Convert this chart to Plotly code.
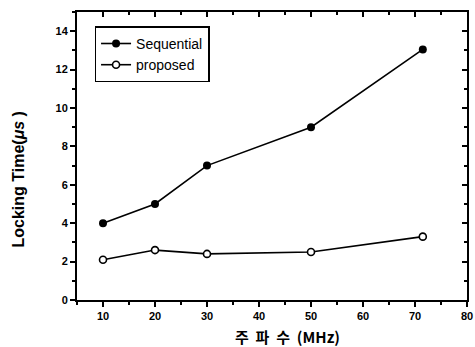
import plotly.graph_objects as go

freq = [10, 20, 30, 50, 71.5]
sequential = [4.0, 5.0, 7.0, 9.0, 13.05]
proposed = [2.1, 2.6, 2.4, 2.5, 3.3]
x_ticks = [10, 20, 30, 40, 50, 60, 70, 80]
y_ticks = [0, 2, 4, 6, 8, 10, 12, 14]

FONT = "Liberation Sans, Arial, sans-serif"

fig = go.Figure()
fig.add_trace(go.Scatter(
    x=freq, y=sequential, name="Sequential", mode="lines+markers",
    line=dict(color="black", width=1.6),
    marker=dict(symbol="circle", size=8, color="black"),
))
fig.add_trace(go.Scatter(
    x=freq, y=proposed, name="proposed", mode="lines+markers",
    line=dict(color="black", width=1.6),
    marker=dict(symbol="circle", size=7, color="white", line=dict(color="black", width=1.6)),
))
# helper trace for the inward-ticked top/right axes
fig.add_trace(go.Scatter(x=[None], y=[None], xaxis="x2", yaxis="y2",
                         showlegend=False, hoverinfo="skip"))

axis_common = dict(showgrid=False, zeroline=False, showline=True, linecolor="black",
                   linewidth=2, tickcolor="black", tickwidth=1.5)

fig.update_layout(
    width=475, height=347,
    margin=dict(l=77, r=8, t=12, b=47, autoexpand=False),
    paper_bgcolor="white", plot_bgcolor="white",
    font=dict(family=FONT, color="black"),
    showlegend=True,
    legend=dict(x=0.045, y=0.95, xanchor="left", yanchor="top",
                bordercolor="black", borderwidth=1.5, bgcolor="white",
                font=dict(size=14, family=FONT), tracegroupgap=0),
    xaxis=dict(range=[5, 80], tickvals=x_ticks, ticks="outside", ticklen=5,
               tickfont=dict(size=11, family=FONT, weight="bold"),
               minor=dict(dtick=5, ticks="outside", ticklen=3, tickcolor="black", tickwidth=1.5),
               **axis_common),
    yaxis=dict(range=[0, 15], tickvals=y_ticks, ticks="outside", ticklen=5,
               tickfont=dict(size=11, family=FONT, weight="bold"),
               minor=dict(dtick=1, ticks="outside", ticklen=3, tickcolor="black", tickwidth=1.5),
               **axis_common),
    xaxis2=dict(range=[5, 80], tickvals=x_ticks, ticks="inside", ticklen=5, side="top",
                overlaying="x", anchor="y", showticklabels=False,
                minor=dict(dtick=5, ticks="inside", ticklen=3, tickcolor="black", tickwidth=1.5),
                **axis_common),
    yaxis2=dict(range=[0, 15], tickvals=y_ticks, ticks="inside", ticklen=5, side="right",
                overlaying="y", anchor="x", showticklabels=False,
                minor=dict(dtick=1, ticks="inside", ticklen=3, tickcolor="black", tickwidth=1.5),
                **axis_common),
    annotations=[
        dict(text="<b>주&nbsp;&nbsp;파&nbsp;&nbsp;수&nbsp;&nbsp;(MHz)</b>", xref="paper", yref="paper",
             x=0.54, y=-0.127, xanchor="center", yanchor="middle", showarrow=False,
             font=dict(size=15, family="Noto Sans CJK KR, " + FONT)),
        dict(text="<b>Locking Time(<i>μs</i> )</b>",
             xref="paper", yref="paper", x=-0.15, y=0.42, xanchor="center", yanchor="middle",
             textangle=-90, showarrow=False, font=dict(size=16, family=FONT)),
    ],
)

fig.write_html("out.html", config={"displayModeBar": False},
               post_script="document.body.style.margin='0';document.body.style.overflow='hidden';")
